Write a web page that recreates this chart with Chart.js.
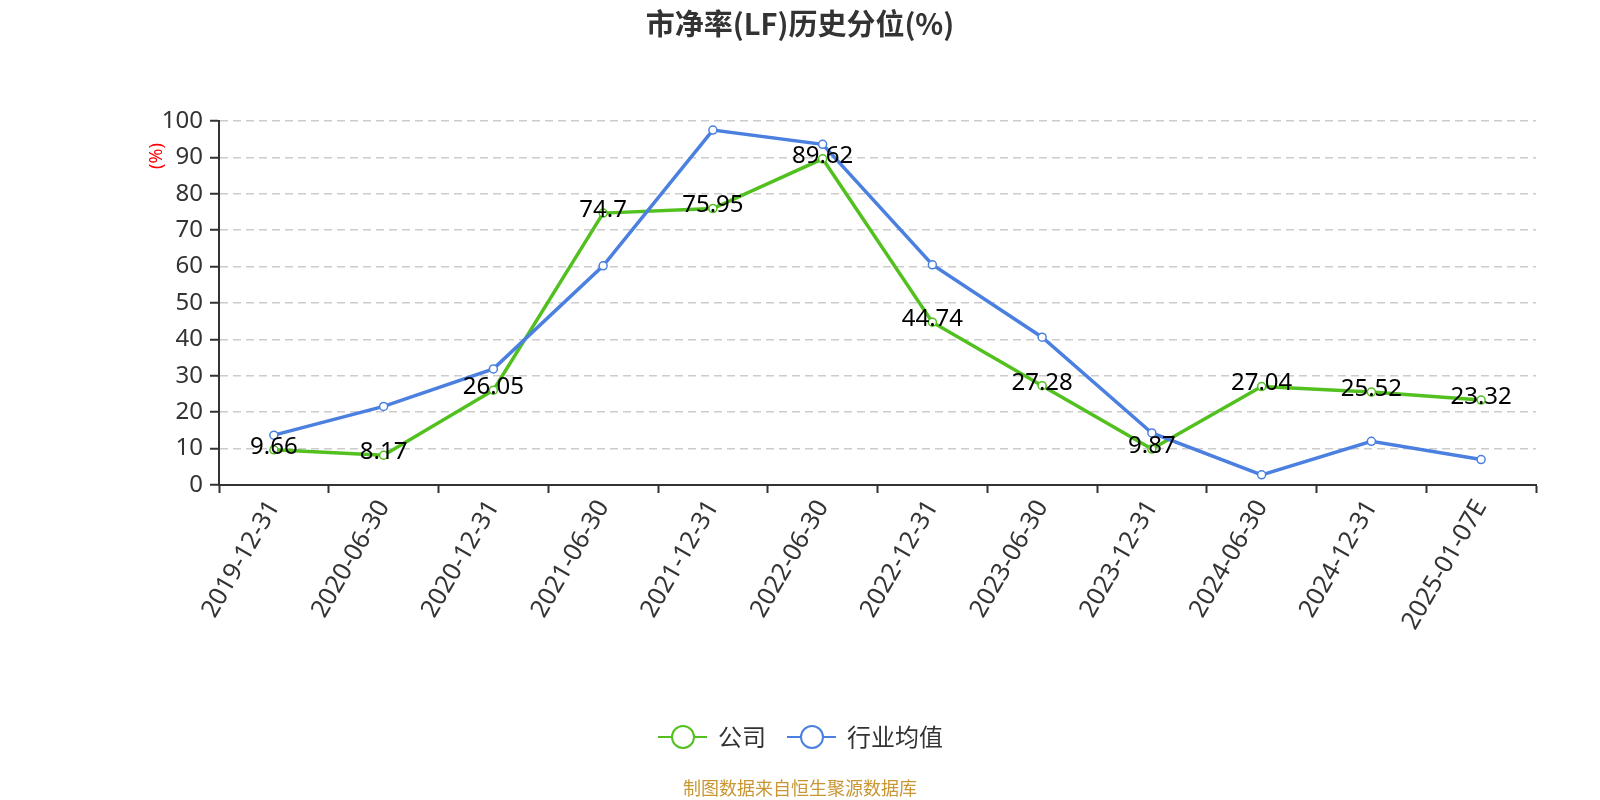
<!DOCTYPE html>
<html>
<head>
<meta charset="utf-8">
<script src="https://cdn.jsdelivr.net/npm/chart.js@4.4.1/dist/chart.umd.min.js"></script>
<style>
html,body{margin:0;padding:0;background:#fff;}
#wrap{width:1600px;height:800px;}
</style>
</head>
<body>
<div id="wrap"><canvas id="c" width="1600" height="800"></canvas></div>
<script>
const categories = ["2019-12-31","2020-06-30","2020-12-31","2021-06-30","2021-12-31","2022-06-30","2022-12-31","2023-06-30","2023-12-31","2024-06-30","2024-12-31","2025-01-07E"];
const companyValues = [9.66, 8.17, 26.05, 74.7, 75.95, 89.62, 44.74, 27.28, 9.87, 27.04, 25.52, 23.32];
const industryValues = [13.7, 21.6, 31.9, 60.2, 97.5, 93.6, 60.5, 40.6, 14.3, 2.8, 12.0, 7.0];
const yTicks = [0,10,20,30,40,50,60,70,80,90,100];
const seriesNames = ["公司", "行业均值"];
const titleText = "市净率(LF)历史分位(%)";
const footerText = "制图数据来自恒生聚源数据库";

const GREEN = "#52c11f";
const BLUE = "#4b80e0";
const FONT = "'Noto Sans', 'Open Sans', 'Noto Sans CJK SC', sans-serif";
const CJK = "'Noto Sans CJK SC', 'Noto Sans', sans-serif";

const decor = {
  id: "decor",
  afterDatasetsDraw(chart) {
    const ctx = chart.ctx;
    const meta = chart.getDatasetMeta(0);
    ctx.save();
    ctx.font = "24px " + FONT;
    ctx.fillStyle = "#000";
    ctx.textAlign = "center";
    ctx.textBaseline = "middle";
    meta.data.forEach((pt, i) => {
      ctx.fillText(String(companyValues[i]), pt.x, pt.y - 3);
    });
    ctx.restore();
  },
  afterDraw(chart) {
    const ctx = chart.ctx;
    ctx.save();
    ctx.font = "bold 29px " + CJK;
    ctx.fillStyle = "#333";
    ctx.textAlign = "center";
    ctx.textBaseline = "middle";
    ctx.fillText(titleText, 800, 24);
    ctx.save();
    ctx.translate(157, 156);
    ctx.rotate(-Math.PI / 2);
    ctx.font = "18px " + FONT;
    ctx.fillStyle = "#ff0000";
    ctx.fillText("(%)", 0, 0);
    ctx.restore();
    const items = [
      {x0: 658, color: GREEN, text: seriesNames[0]},
      {x0: 787, color: BLUE, text: seriesNames[1]}
    ];
    const ly = 737;
    items.forEach(it => {
      ctx.strokeStyle = it.color;
      ctx.lineWidth = 2;
      ctx.beginPath();
      ctx.moveTo(it.x0, ly);
      ctx.lineTo(it.x0 + 49, ly);
      ctx.stroke();
      ctx.beginPath();
      ctx.arc(it.x0 + 25, ly, 11, 0, Math.PI * 2);
      ctx.fillStyle = "#fff";
      ctx.fill();
      ctx.stroke();
      ctx.font = "24px " + CJK;
      ctx.fillStyle = "#333";
      ctx.textAlign = "left";
      ctx.textBaseline = "middle";
      ctx.fillText(it.text, it.x0 + 60, ly);
    });
    ctx.font = "18px " + CJK;
    ctx.fillStyle = "#c89632";
    ctx.textAlign = "center";
    ctx.textBaseline = "middle";
    ctx.fillText(footerText, 800, 788);
    ctx.restore();
  }
};

new Chart(document.getElementById("c"), {
  type: "line",
  data: {
    labels: categories,
    datasets: [
      {
        label: seriesNames[0],
        data: companyValues,
        borderColor: GREEN,
        backgroundColor: "#fff",
        borderWidth: 3.5,
        pointRadius: 4,
        pointBorderWidth: 1.5,
        pointBorderColor: GREEN,
        pointBackgroundColor: "#fff",
        tension: 0,
        order: 1
      },
      {
        label: seriesNames[1],
        data: industryValues,
        borderColor: BLUE,
        backgroundColor: "#fff",
        borderWidth: 3.5,
        pointRadius: 4,
        pointBorderWidth: 1.5,
        pointBorderColor: BLUE,
        pointBackgroundColor: "#fff",
        tension: 0,
        order: 0
      }
    ]
  },
  options: {
    responsive: false,
    animation: false,
    layout: { padding: { left: 0, top: 121, right: 64, bottom: 115 } },
    plugins: {
      legend: { display: false },
      title: { display: false },
      tooltip: { enabled: false }
    },
    scales: {
      x: {
        offset: true,
        grid: {
          offset: true,
          drawOnChartArea: false,
          drawTicks: true,
          tickLength: 8,
          tickColor: "#333",
          tickWidth: 2
        },
        border: { display: true, color: "#333", width: 2 },
        ticks: {
          color: "#333",
          font: { size: 25, family: FONT },
          minRotation: 60,
          maxRotation: 60,
          padding: 2,
          autoSkip: false
        },
        afterFit(s) { s.height = 200; }
      },
      y: {
        min: 0,
        max: 100,
        afterBuildTicks(s) { s.ticks = yTicks.map(v => ({value: v})); },
        grid: {
          color: "#cccccc",
          lineWidth: 1.5,
          tickBorderDash: [],
          tickColor: "#333",
          tickWidth: 2,
          tickLength: 9,
          drawTicks: true
        },
        border: { display: true, color: "#333", width: 2, dash: [8, 5] },
        ticks: {
          color: "#333",
          font: { size: 24, family: FONT },
          padding: 7
        },
        afterFit(s) { s.width = 219; }
      }
    }
  },
  plugins: [decor]
});
</script>
</body>
</html>
